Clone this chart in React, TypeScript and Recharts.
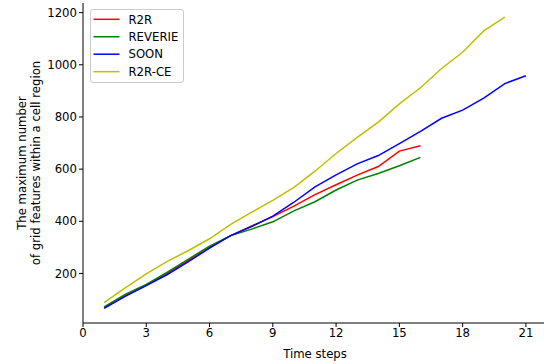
import React from "react";
import { LineChart, Line, XAxis, YAxis } from "recharts";

const steps = [1, 2, 3, 4, 5, 6, 7, 8, 9, 10, 11, 12, 13, 14, 15, 16, 17, 18, 19, 20, 21];
const r2r = [68, 115, 155, 200, 250, 300, 345, 382, 418, 458, 502, 540, 577, 610, 669, 690];
const reverie = [72, 120, 158, 205, 255, 305, 345, 370, 398, 440, 475, 520, 558, 583, 613, 645];
const soon = [66, 112, 153, 196, 245, 297, 345, 380, 420, 473, 532, 578, 620, 652, 698, 745, 795, 826, 872, 928, 958];
const r2rce = [88, 145, 198, 246, 288, 333, 388, 435, 480, 530, 592, 660, 722, 780, 850, 912, 986, 1048, 1130, 1183];
const xTicks = [0, 3, 6, 9, 12, 15, 18, 21];
const yTicks = [200, 400, 600, 800, 1000, 1200];

const seriesMeta = [
  { key: "R2R", color: "#ff0000" },
  { key: "REVERIE", color: "#008000" },
  { key: "SOON", color: "#0000ff" },
  { key: "R2R-CE", color: "#bfbf00" },
];

const data = steps.map((t, i) => ({
  t,
  R2R: r2r[i],
  REVERIE: reverie[i],
  SOON: soon[i],
  "R2R-CE": r2rce[i],
}));

const FONT = "DejaVu Sans";
const FS = 11.7;

const LegendBox = () => (
  <div
    style={{
      position: "absolute",
      left: 90,
      top: 9,
      width: 94,
      height: 74,
      border: "1px solid #cccccc",
      borderRadius: 3,
      background: "rgba(255,255,255,0.8)",
      boxSizing: "border-box",
    }}
  >
    <svg width={94} height={74} style={{ position: "absolute", left: -1, top: -1 }}>
      {seriesMeta.map((s, i) => {
        const y = 10.3 + i * 17.45;
        return (
          <g key={s.key}>
            <line x1={3.5} x2={29.5} y1={y} y2={y} stroke={s.color} strokeWidth={1.5} />
            <text x={38.5} y={y + 4.2} fontSize={FS} fontFamily={FONT} fill="#000">
              {s.key}
            </text>
          </g>
        );
      })}
    </svg>
  </div>
);

const YLabel = (props: any) => {
  const vb = props.viewBox || {};
  const cy = vb.y + vb.height / 2;
  return (
    <g>
      <text x={26} y={cy} transform={`rotate(-90 26 ${cy})`} textAnchor="middle" fontSize={FS} fontFamily={FONT} fill="#000">
        The maximum number
      </text>
      <text x={39.5} y={cy} transform={`rotate(-90 39.5 ${cy})`} textAnchor="middle" fontSize={FS} fontFamily={FONT} fill="#000">
        of grid features within a cell region
      </text>
    </g>
  );
};

export default function App() {
  return (
    <div style={{ position: "fixed", left: 0, top: 0, width: 544, height: 364, overflow: "hidden", background: "#fff", fontFamily: FONT }}>
      <LineChart width={560} height={364} data={data} margin={{ top: 3, right: 13, bottom: 0, left: 0 }}>
        <XAxis
          dataKey="t"
          type="number"
          domain={[0, 22]}
          ticks={xTicks}
          allowDataOverflow
          height={41}
          stroke="#000"
          tickSize={4}
          tick={{ fontSize: FS, fill: "#000", fontFamily: FONT }}
          tickLine={{ stroke: "#000" }}
          axisLine={{ stroke: "#000", strokeWidth: 1 }}
          label={{ value: "Time steps", position: "insideBottom", offset: 6, fontSize: FS, fill: "#000", fontFamily: FONT }}
        />
        <XAxis xAxisId="top" dataKey="t" type="number" domain={[0, 22]} orientation="top" height={0} tick={false} tickLine={false} axisLine={{ stroke: "#000" }} />
        <YAxis
          type="number"
          domain={[10, 1237]}
          ticks={yTicks}
          allowDataOverflow
          width={83}
          stroke="#000"
          tickSize={4}
          tick={{ fontSize: FS, fill: "#000", fontFamily: FONT }}
          tickLine={{ stroke: "#000" }}
          axisLine={{ stroke: "#000", strokeWidth: 1 }}
          label={<YLabel />}
        />
        <YAxis yAxisId="right" orientation="right" domain={[10, 1237]} width={0} tick={false} tickLine={false} axisLine={{ stroke: "#000" }} />
        {seriesMeta.map((s) => (
          <Line
            key={s.key}
            dataKey={s.key}
            stroke={s.color}
            strokeWidth={1.5}
            dot={false}
            isAnimationActive={false}
            connectNulls={false}
          />
        ))}
      </LineChart>
      <LegendBox />
    </div>
  );
}
